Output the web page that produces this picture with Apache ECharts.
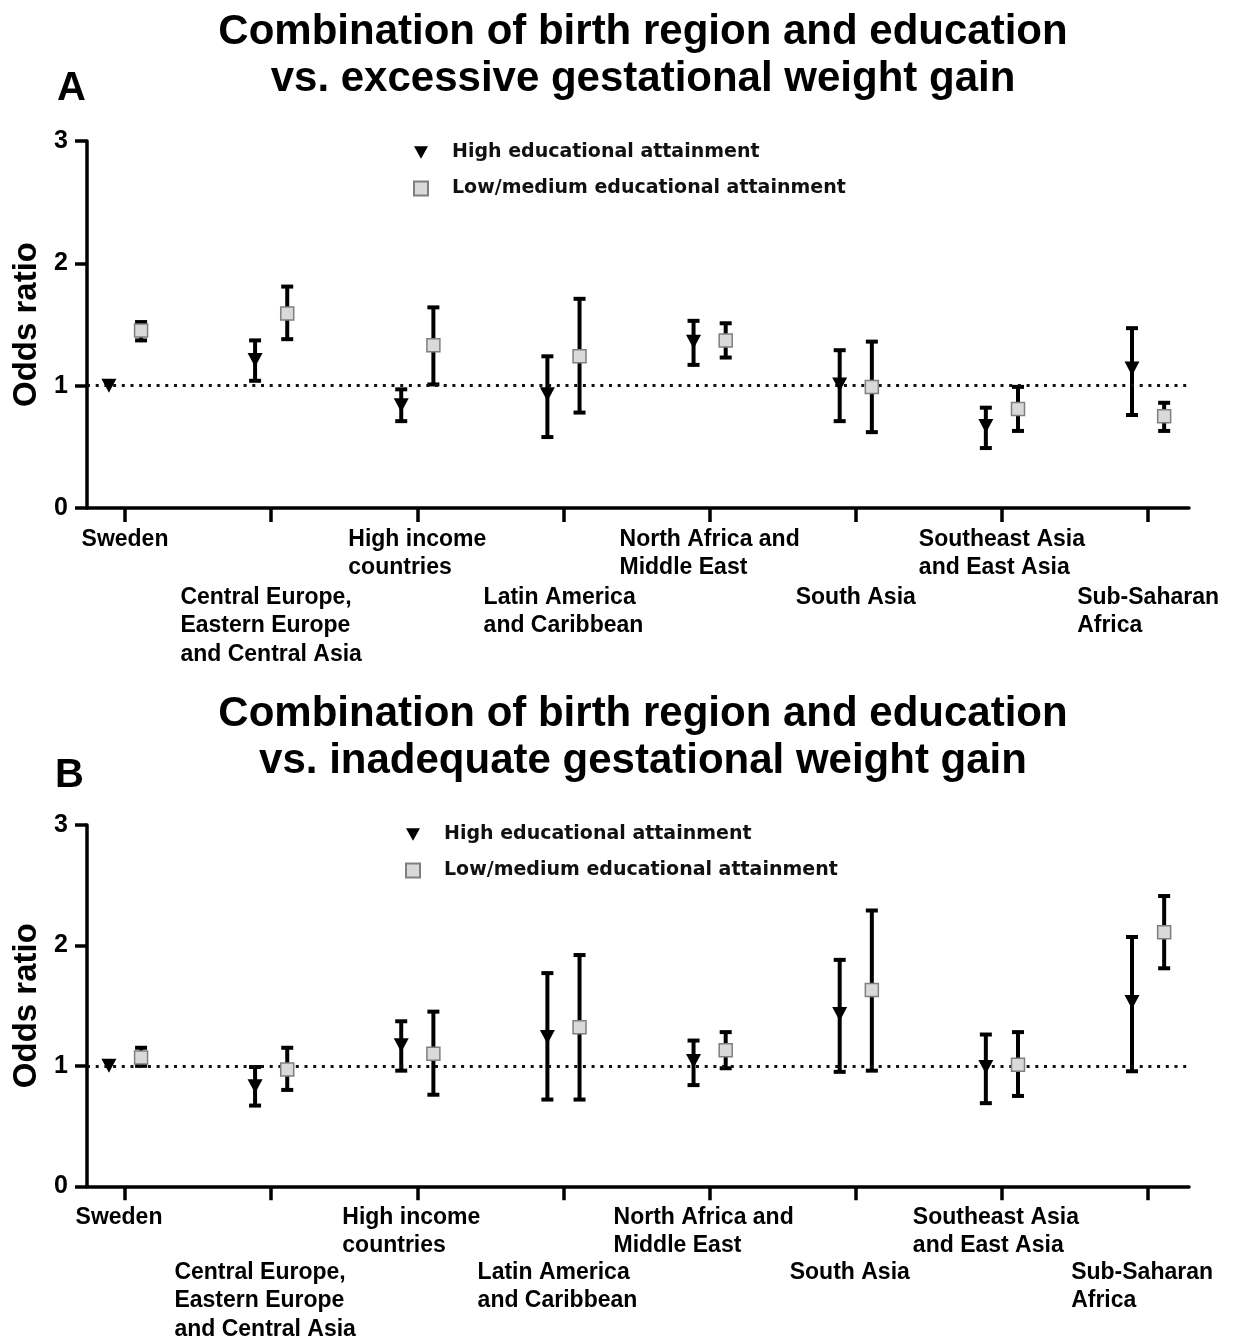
<!DOCTYPE html>
<html>
<head>
<meta charset="utf-8">
<script src="https://cdn.jsdelivr.net/npm/echarts@6/dist/echarts.min.js"></script>
<style>
  html, body { margin: 0; padding: 0; background: #fff; }
  #chart { width: 1236px; height: 1341px; }
</style>
</head>
<body>
<div id="chart"></div>
<script>
// birth regions, left to right
const regions = [
    'Sweden',
    'Central Europe,\nEastern Europe\nand Central Asia',
    'High income\ncountries',
    'Latin America\nand Caribbean',
    'North Africa and\nMiddle East',
    'South Asia',
    'Southeast Asia\nand East Asia',
    'Sub-Saharan\nAfrica'
];
const yTicks = [0, 1, 2, 3];

// A: excessive gestational weight gain (odds ratio, lower CI, upper CI)
const excHighOR = [1.00, 1.21, 0.84, 0.93, 1.36, 1.01, 0.67, 1.14];
const excHighLo = [null, 1.04, 0.71, 0.58, 1.17, 0.71, 0.49, 0.76];
const excHighHi = [null, 1.37, 0.97, 1.24, 1.53, 1.29, 0.82, 1.47];
const excLowOR = [1.45, 1.59, 1.33, 1.24, 1.37, 0.99, 0.81, 0.75];
const excLowLo = [1.37, 1.38, 1.01, 0.78, 1.23, 0.62, 0.63, 0.63];
const excLowHi = [1.52, 1.81, 1.64, 1.71, 1.51, 1.36, 0.99, 0.86];

// B: inadequate gestational weight gain
const inaHighOR = [1.00, 0.83, 1.17, 1.24, 1.04, 1.43, 0.99, 1.53];
const inaHighLo = [null, 0.67, 0.96, 0.72, 0.84, 0.95, 0.69, 0.955];
const inaHighHi = [null, 0.99, 1.37, 1.77, 1.21, 1.88, 1.26, 2.07];
const inaLowOR = [1.07, 0.97, 1.10, 1.32, 1.13, 1.63, 1.01, 2.11];
const inaLowLo = [1.00, 0.80, 0.76, 0.72, 0.98, 0.96, 0.75, 1.81];
const inaLowHi = [1.15, 1.15, 1.45, 1.92, 1.28, 2.29, 1.28, 2.41];

const HIGH = 'High educational attainment';
const LOW = 'Low/medium educational attainment';
const SHIFT = 0.11; // horizontal dodge of the two groups
const FONT = '"Liberation Sans", Arial, sans-serif';
const DOWN_TRIANGLE = 'path://M0,0L10,0L5,9Z';

const chart = echarts.init(document.getElementById('chart'));

function errorBar(params, api) {
    const x = api.value(0);
    const top = api.coord([x, api.value(2)]);
    const bot = api.coord([x, api.value(1)]);
    const cap = 6;
    const st = { stroke: '#000', lineWidth: 4 };
    return {
        type: 'group',
        children: [
            { type: 'line', shape: { x1: top[0], y1: top[1], x2: bot[0], y2: bot[1] }, style: st },
            { type: 'line', shape: { x1: top[0] - cap, y1: top[1], x2: top[0] + cap, y2: top[1] }, style: st },
            { type: 'line', shape: { x1: bot[0] - cap, y1: bot[1], x2: bot[0] + cap, y2: bot[1] }, style: st }
        ]
    };
}

function bars(lo, hi, off) {
    const out = [];
    lo.forEach((v, i) => {
        if (v != null) out.push([i + off, v, hi[i]]);
    });
    return out;
}

function points(or, off) {
    return or.map((v, i) => [i + off, v]);
}

function labelFormatter(value) {
    const txt = regions[Math.round(value)] || '';
    return txt.split('\n').map(s => '{l|' + s + '}').join('\n');
}

const labelRich = {
    l: { align: 'left', fontFamily: FONT, fontWeight: 'bold', fontSize: 23, lineHeight: 28.5, color: '#000' }
};

function xAxes(grid, topMargin, lowMargin, pad) {
    const base = { type: 'value', gridIndex: grid, min: -0.26, max: 7.28, splitLine: { show: false } };
    return [
        Object.assign({}, base, {
            position: 'bottom',
            axisLine: { onZero: false, lineStyle: { color: '#000', width: 3.5 } },
            axisTick: { length: 14, lineStyle: { color: '#000', width: 3.5 }, customValues: [0, 1, 2, 3, 4, 5, 6, 7] },
            axisLabel: { customValues: [0, 2, 4, 6], margin: topMargin, formatter: labelFormatter, rich: labelRich, padding: pad }
        }),
        Object.assign({}, base, {
            position: 'bottom',
            axisLine: { show: false, onZero: false },
            axisTick: { show: false },
            axisLabel: { customValues: [1, 3, 5, 7], margin: lowMargin, formatter: labelFormatter, rich: labelRich, padding: pad }
        })
    ];
}

function yAxis(grid) {
    return {
        type: 'value', gridIndex: grid, min: yTicks[0], max: yTicks[yTicks.length - 1], interval: 1,
        splitLine: { show: false },
        axisLine: { show: true, onZero: false, lineStyle: { color: '#000', width: 3.5 } },
        axisTick: { show: true, length: 12, lineStyle: { color: '#000', width: 3.5 } },
        axisLabel: { margin: 19, fontFamily: FONT, fontWeight: 'bold', fontSize: 25, color: '#000' },
        name: 'Odds ratio', nameLocation: 'middle', nameGap: 44,
        nameTextStyle: { fontFamily: FONT, fontWeight: 'bold', fontSize: 33, color: '#000' }
    };
}

function panelSeries(xi, yi, hiOR, hiLo, hiHi, loOR, loLo, loHi) {
    return [
        {
            type: 'custom', xAxisIndex: xi, yAxisIndex: yi, renderItem: errorBar, z: 2,
            encode: { x: 0, y: [1, 2] }, data: bars(hiLo, hiHi, -SHIFT),
            markLine: {
                silent: true, symbol: 'none', label: { show: false },
                lineStyle: { color: '#111', width: 3, type: [3, 5.7] },
                data: [{ yAxis: 1 }]
            }
        },
        {
            type: 'custom', xAxisIndex: xi, yAxisIndex: yi, renderItem: errorBar, z: 2,
            encode: { x: 0, y: [1, 2] }, data: bars(loLo, loHi, SHIFT)
        },
        {
            name: HIGH, type: 'scatter', xAxisIndex: xi, yAxisIndex: yi, z: 5,
            symbol: 'triangle', symbolRotate: 180, symbolSize: [15, 14],
            itemStyle: { color: '#000', opacity: 1 },
            data: points(hiOR, -SHIFT)
        },
        {
            name: LOW, type: 'scatter', xAxisIndex: xi, yAxisIndex: yi, z: 5,
            symbol: 'rect', symbolSize: 13,
            itemStyle: { color: '#d9d9d9', borderColor: '#7f7f7f', borderWidth: 1.5, opacity: 1 },
            data: points(loOR, SHIFT)
        }
    ];
}

const titleStyle = { fontFamily: FONT, fontWeight: 'bold', fontSize: 42, lineHeight: 47, color: '#000' };
const legendText = { fontFamily: '"DejaVu Sans", sans-serif', fontWeight: 'bold', fontSize: 19, color: '#111', padding: [0, 0, 0, 19] };
const legendData = [{ name: HIGH, icon: DOWN_TRIANGLE }, { name: LOW }];

const options = {
    animation: false,
    backgroundColor: '#fff',
    title: [
        { text: 'Combination of birth region and education\nvs. excessive gestational weight gain', left: 638, top: 4, textAlign: 'center', textStyle: titleStyle },
        { text: 'A', left: 52, top: 64, textStyle: { fontFamily: FONT, fontWeight: 'bold', fontSize: 40, color: '#000' } },
        { text: 'Combination of birth region and education\nvs. inadequate gestational weight gain', left: 638, top: 686, textAlign: 'center', textStyle: titleStyle },
        { text: 'B', left: 50, top: 751, textStyle: { fontFamily: FONT, fontWeight: 'bold', fontSize: 40, color: '#000' } }
    ],
    legend: [
        {
            orient: 'vertical', left: 408, top: 138, itemWidth: 14, itemHeight: 14, itemGap: 17,
            data: legendData, textStyle: legendText, selectedMode: false
        },
        {
            orient: 'vertical', left: 400, top: 820, itemWidth: 14, itemHeight: 14, itemGap: 17,
            data: legendData, textStyle: legendText, selectedMode: false
        }
    ],
    grid: [
        { left: 87, top: 141, width: 1102, height: 367 },
        { left: 87, top: 825, width: 1102, height: 367 }
    ],
    xAxis: [].concat(xAxes(0, 17, 75, 0), xAxes(1, 17, 72, [0, 12, 0, 0])),
    yAxis: [yAxis(0), yAxis(1)],
    series: [].concat(
        panelSeries(0, 0, excHighOR, excHighLo, excHighHi, excLowOR, excLowLo, excLowHi),
        panelSeries(2, 1, inaHighOR, inaHighLo, inaHighHi, inaLowOR, inaLowLo, inaLowHi)
    )
};

chart.setOption(options);
</script>
</body>
</html>
